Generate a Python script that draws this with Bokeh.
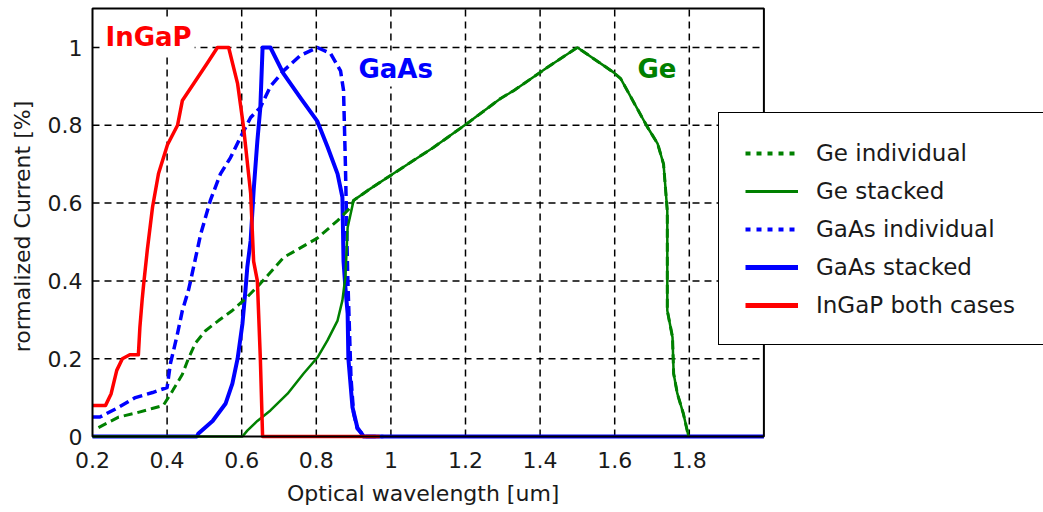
import numpy as np
from bokeh.plotting import figure
from bokeh.models import Legend, LegendItem, Label, Range1d, BoxAnnotation
from bokeh.core.properties import value
from bokeh.embed import file_html
from bokeh.resources import INLINE

# ---------------- data ----------------
ingap_x = [0.2, 0.235, 0.25, 0.265, 0.28, 0.30, 0.323, 0.327, 0.333, 0.337, 0.347, 0.361, 0.377,
           0.401, 0.428, 0.441, 0.471, 0.508, 0.535, 0.565, 0.589, 0.605, 0.624, 0.632, 0.642,
           0.650, 0.656, 0.97]
ingap_y = [0.08, 0.08, 0.11, 0.17, 0.20, 0.21, 0.21, 0.28, 0.35, 0.39, 0.48, 0.59, 0.676,
           0.75, 0.80, 0.864, 0.907, 0.96, 1.0, 1.0, 0.907, 0.795, 0.625, 0.45, 0.40,
           0.20, 0.0, 0.0]

gaas_st_x = [0.2, 0.48, 0.484, 0.522, 0.557, 0.575, 0.589, 0.602, 0.61, 0.615, 0.624, 0.632,
             0.642, 0.65, 0.656, 0.677, 0.712, 0.758, 0.803, 0.83, 0.857, 0.87, 0.873, 0.878,
             0.884, 0.886, 0.897, 0.91, 0.927, 2.0]
gaas_st_y = [0.0, 0.0, 0.008, 0.04, 0.085, 0.136, 0.2, 0.29, 0.375, 0.435, 0.504, 0.632,
             0.76, 0.846, 1.0, 1.0, 0.933, 0.87, 0.81, 0.745, 0.675, 0.615, 0.45, 0.383,
             0.316, 0.2, 0.075, 0.023, 0.0, 0.0]

gaas_ind_x = [0.2, 0.22, 0.27, 0.315, 0.361, 0.40, 0.409, 0.417, 0.428, 0.441, 0.457, 0.463,
              0.49, 0.516, 0.543, 0.57, 0.597, 0.624, 0.65, 0.677, 0.712, 0.758, 0.803, 0.838,
              0.865, 0.873, 0.878, 0.884, 0.888, 0.893, 0.90, 0.91, 0.93, 0.98]
gaas_ind_y = [0.05, 0.05, 0.075, 0.10, 0.113, 0.126, 0.188, 0.22, 0.265, 0.324, 0.375, 0.40,
              0.52, 0.607, 0.675, 0.717, 0.77, 0.82, 0.846, 0.90, 0.94, 0.98, 1.0, 0.985,
              0.94, 0.89, 0.70, 0.42, 0.30, 0.15, 0.06, 0.02, 0.0, 0.0]

ge_ind_x = [0.216, 0.27, 0.315, 0.36, 0.39, 0.415, 0.441, 0.457, 0.476, 0.503, 0.538, 0.575,
            0.61, 0.65, 0.712, 0.803, 0.857, 0.892, 0.9, 0.937, 1.007, 1.114, 1.205, 1.294,
            1.329, 1.42, 1.5, 1.597, 1.616, 1.688, 1.715, 1.731, 1.741, 1.741, 1.755, 1.758,
            1.768, 1.784, 1.798]
ge_ind_y = [0.023, 0.05, 0.06, 0.072, 0.08, 0.118, 0.16, 0.2, 0.24, 0.272, 0.298, 0.324,
            0.354, 0.393, 0.46, 0.51, 0.555, 0.589, 0.607, 0.632, 0.676, 0.743, 0.805, 0.869,
            0.889, 0.949, 1.0, 0.936, 0.92, 0.795, 0.753, 0.70, 0.58, 0.324, 0.255, 0.162,
            0.11, 0.059, 0.0]

ge_st_x = [0.2, 0.602, 0.615, 0.642, 0.677, 0.723, 0.766, 0.803, 0.83, 0.857, 0.87, 0.878,
           0.884, 0.9, 0.937, 1.007, 1.114, 1.205, 1.294, 1.329, 1.42, 1.5, 1.597, 1.616,
           1.688, 1.715, 1.731, 1.741, 1.741, 1.755, 1.758, 1.768, 1.784, 1.798]
ge_st_y = [0.0, 0.0, 0.015, 0.04, 0.067, 0.11, 0.162, 0.203, 0.247, 0.298, 0.35, 0.41,
           0.537, 0.607, 0.632, 0.676, 0.743, 0.805, 0.869, 0.889, 0.949, 1.0, 0.936, 0.92,
           0.795, 0.753, 0.70, 0.58, 0.324, 0.255, 0.162, 0.11, 0.059, 0.0]

x_ticks = [0.2, 0.4, 0.6, 0.8, 1.0, 1.2, 1.4, 1.6, 1.8]
x_tick_labels = ["0.2", "0.4", "0.6", "0.8", "1", "1.2", "1.4", "1.6", "1.8"]
y_ticks = [0.0, 0.2, 0.4, 0.6, 0.8, 1.0]
y_tick_labels = ["0", "0.2", "0.4", "0.6", "0.8", "1"]
x_lim = (0.2, 2.0)
y_lim = (0.0, 1.1)
x_title = "Optical wavelength [um]"
y_title = "rormalized Current [%]"

legend_labels = ["Ge individual", "Ge stacked", "GaAs individual", "GaAs stacked", "InGaP both cases"]

GREEN = "#008000"
BLUE = "#0000ff"
RED = "#ff0000"
TXT = "#1a1a1a"
FONT = "DejaVu Sans"

# pixel scale of the axes box: 373 px per um, 389 px per unit of current
PX_X = 373.0
PX_Y = 389.0

# The frame covers the whole canvas so that the legend (which overlaps the axes box and
# runs past the page edge) and the axis texts are not clipped; the axes box is drawn
# at x_lim / y_lim, and tick texts are placed from the tick arrays.
p = figure(width=1043, height=512, output_backend="svg", toolbar_location=None,
           x_range=Range1d(x_lim[0] - 92 / PX_X, x_lim[0] + 951 / PX_X),
           y_range=Range1d(y_lim[0] - 76 / PX_Y, y_lim[0] + 436 / PX_Y),
           min_border=0, background_fill_color="white", border_fill_color="white")
p.outline_line_color = None
p.xgrid.visible = False
p.ygrid.visible = False
p.axis.visible = False

# dashed grid limited to the axes box
gx = x_ticks[1:]
gy = y_ticks[1:]
p.segment(x0=gx, x1=gx, y0=[y_lim[0]] * len(gx), y1=[y_lim[1]] * len(gx),
          line_color="black", line_width=1.5, line_dash="7 5", level="underlay")
p.segment(x0=[x_lim[0]] * len(gy), x1=[x_lim[1]] * len(gy), y0=gy, y1=gy,
          line_color="black", line_width=1.5, line_dash="7 5", level="underlay")

# tick labels and axis titles
p.text(x=x_ticks, y=[y_lim[0] - 23 / PX_Y] * len(x_ticks), text=x_tick_labels,
       text_font=value(FONT), text_font_size="22px", text_color=TXT,
       text_align="center", text_baseline="alphabetic")
p.text(x=[x_lim[0] - 10 / PX_X] * len(y_ticks), y=y_ticks, text=y_tick_labels,
       text_font=value(FONT), text_font_size="22px", text_color=TXT,
       text_align="right", text_baseline="middle")
p.text(x=[(x_lim[0] + x_lim[1]) / 2 - 5 / PX_X], y=[y_lim[0] - 57 / PX_Y], text=[x_title],
       text_font=value(FONT), text_font_size="22px", text_color=TXT,
       text_align="center", text_baseline="alphabetic")
p.text(x=[x_lim[0] - 70 / PX_X], y=[(y_lim[0] + y_lim[1]) / 2 - 4 / PX_Y], text=[y_title],
       angle=np.pi / 2, text_font=value(FONT), text_font_size="22px", text_color=TXT,
       text_align="center", text_baseline="middle")

# axes box
p.add_layout(BoxAnnotation(left=x_lim[0], right=x_lim[1], bottom=y_lim[0], top=y_lim[1],
                           fill_alpha=0, line_color="black", line_alpha=1.0, line_width=2))

# curves
p.line(gaas_ind_x, gaas_ind_y, line_color=BLUE, line_width=3.5, line_dash="10 5", line_join="round")
p.line(gaas_st_x, gaas_st_y, line_color=BLUE, line_width=4, line_join="round")
p.line(ge_ind_x, ge_ind_y, line_color=GREEN, line_width=3, line_dash="9 5", line_join="round")
p.line(ge_st_x, ge_st_y, line_color=GREEN, line_width=2.5, line_join="round")
p.line(ingap_x, ingap_y, line_color=RED, line_width=3.5, line_join="round")

# legend proxies (dotted style as in the legend); NaN data so nothing shows in the axes
nan2 = np.array([np.nan, np.nan])
r1 = p.line(nan2, nan2, line_color=GREEN, line_width=4, line_dash="5 6")
r2 = p.line(nan2, nan2, line_color=GREEN, line_width=3)
r3 = p.line(nan2, nan2, line_color=BLUE, line_width=4, line_dash="5 6")
r4 = p.line(nan2, nan2, line_color=BLUE, line_width=5)
r5 = p.line(nan2, nan2, line_color=RED, line_width=5)

legend = Legend(items=[LegendItem(label=l, renderers=[r]) for l, r in
                       zip(legend_labels, [r1, r2, r3, r4, r5])],
                location=(718, 167))
legend.label_text_font = FONT
legend.label_text_font_size = "23px"
legend.label_text_color = TXT
legend.glyph_width = 53
legend.glyph_height = 20
legend.label_height = 27
legend.label_width = 240
legend.label_standoff = 18
legend.spacing = 11
legend.padding = 26
legend.margin = 0
legend.border_line_color = "black"
legend.border_line_width = 1.5
legend.border_line_alpha = 1.0
legend.background_fill_color = "white"
legend.background_fill_alpha = 1.0
p.add_layout(legend, "center")

# material labels
for txt, xx, yy, col in [("InGaP", 0.2268, 1.028, RED), ("GaAs", 0.905, 0.946, BLUE),
                         ("Ge", 1.653, 0.946, GREEN)]:
    p.add_layout(Label(x=xx, y=yy, text=txt, text_color=col, text_font=FONT,
                       text_font_size="26px", text_font_style="bold",
                       text_align="left", text_baseline="middle",
                       background_fill_color="white", padding=3))

open("out.html", "w").write(file_html(p, INLINE))
